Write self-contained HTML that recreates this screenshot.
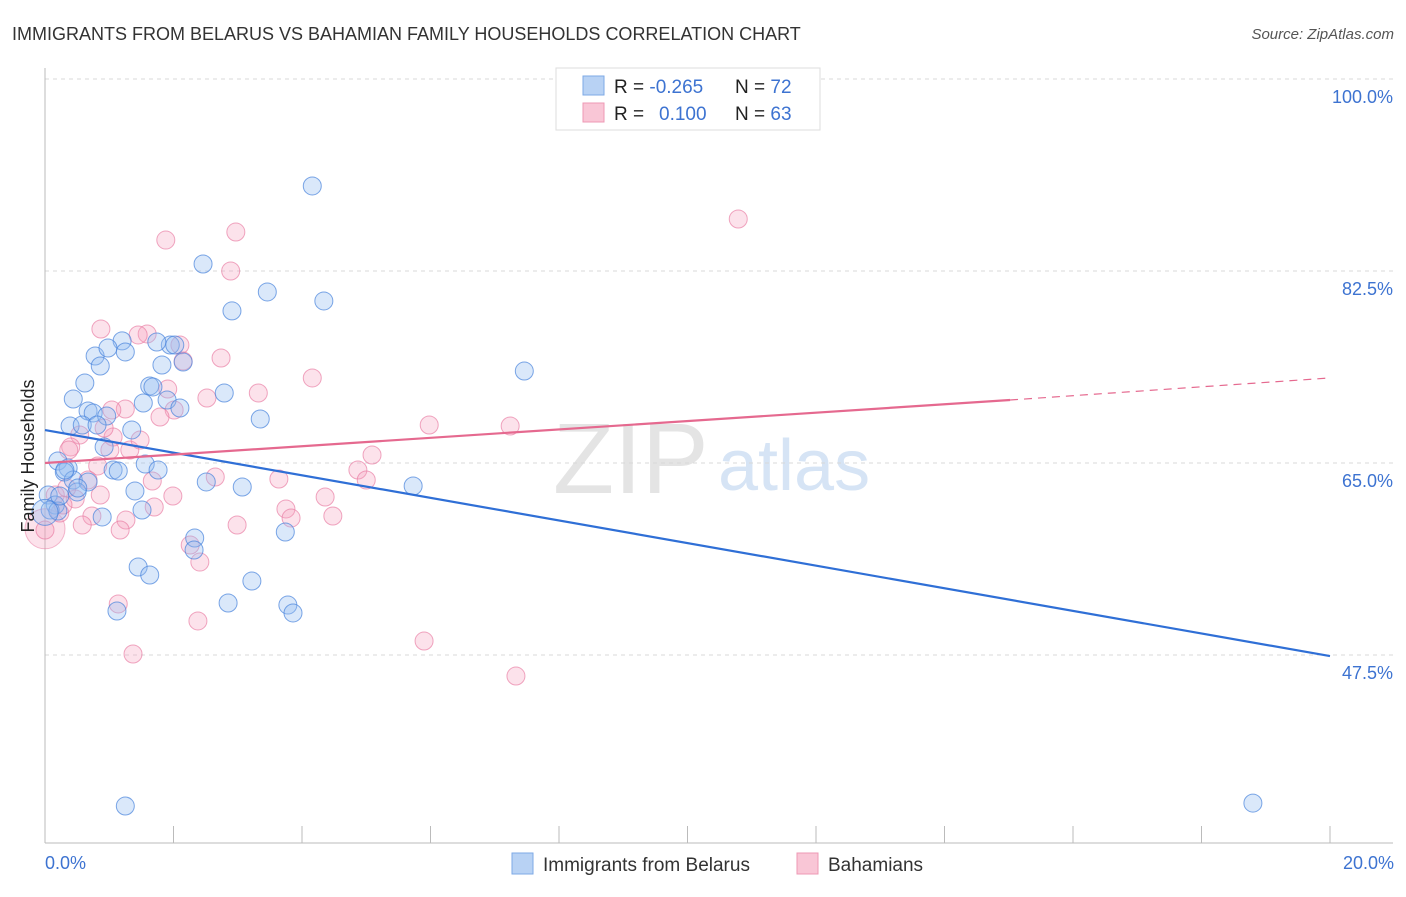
<!DOCTYPE html>
<html><head><meta charset="utf-8"><style>
body{margin:0;background:#fff;font-family:"Liberation Sans",sans-serif;}
svg text{font-family:"Liberation Sans",sans-serif;}
</style></head><body>
<svg id="chart" width="1406" height="892" viewBox="0 0 1406 892" xmlns="http://www.w3.org/2000/svg">
<text x="12" y="40" font-size="18" fill="#333">IMMIGRANTS FROM BELARUS VS BAHAMIAN FAMILY HOUSEHOLDS CORRELATION CHART</text>
<text x="1394" y="39" font-size="15" fill="#555" font-style="italic" text-anchor="end">Source: ZipAtlas.com</text>
<g>
<text x="553" y="493" font-size="100" fill="#e4e4e4" font-family="Liberation Serif">ZIP</text>
<text x="718" y="490" font-size="72" fill="#d6e4f5">atlas</text>
</g>
<g id="grid"></g>
<g id="axes"></g>
<g id="marks"></g>
<text x="34" y="456" font-size="18" fill="#222" transform="rotate(-90 34 456)" text-anchor="middle">Family Households</text>
<g>
<rect x="556" y="68" width="264" height="62" fill="#fff" stroke="#ddd"/>
<rect x="583" y="76" width="21" height="19" fill="#b8d2f4" stroke="#7ea9e6"/>
<rect x="583" y="103" width="21" height="19" fill="#f9c6d6" stroke="#ee98b4"/>
<text x="614" y="93" font-size="19" fill="#222">R = <tspan fill="#3d73d1">-0.265</tspan><tspan x="735">N = </tspan><tspan fill="#3d73d1">72</tspan></text>
<text x="614" y="120" font-size="19" fill="#222">R = <tspan x="659" fill="#3d73d1">0.100</tspan><tspan x="735">N = </tspan><tspan fill="#3d73d1">63</tspan></text>
</g>
<g>
<rect x="512" y="853" width="21" height="21" fill="#b8d2f4" stroke="#7ea9e6"/>
<text x="543" y="871" font-size="19" fill="#333">Immigrants from Belarus</text>
<rect x="797" y="853" width="21" height="21" fill="#f9c6d6" stroke="#ee98b4"/>
<text x="828" y="871" font-size="19" fill="#333">Bahamians</text>
</g>
</svg>
<script>
const yTicks=[100,82.5,65,47.5];
const yTickLabels=["100.0%","82.5%","65.0%","47.5%"];
const xTickLabels=["0.0%","20.0%"];
const blueX=[4.16,2.46,3.46,4.34,2.91,1.20,0.78,0.98,1.25,0.86,1.95,1.74,2.02,2.15,1.82,0.62,1.63,1.68,2.79,0.44,1.53,1.90,2.10,0.67,0.75,0.96,3.35,0.39,0.58,1.35,0.81,0.92,0.20,0.36,0.30,1.56,1.76,1.06,1.14,0.44,0.67,2.51,3.07,5.73,1.40,0.50,0.05,0.16,0.08,0.20,1.51,0.89,2.33,3.74,1.45,1.63,3.22,2.85,3.78,3.86,1.12,7.46,1.25,18.80,0.23,0.51,2.32,0.31,0.00];
const blueY=[90.25,83.14,80.59,79.77,78.86,76.13,74.75,75.48,75.12,73.84,75.75,76.03,75.75,74.20,73.93,72.29,72.02,71.93,71.38,70.83,70.47,70.74,70.01,69.74,69.56,69.28,69.01,68.37,68.46,68.01,68.46,66.46,65.18,64.54,64.18,64.91,64.36,64.36,64.27,63.45,63.27,63.27,62.81,62.90,62.45,62.36,62.08,61.17,60.71,60.62,60.71,60.08,58.16,58.71,55.52,54.79,54.24,52.24,52.05,51.33,51.51,73.38,33.73,34.00,61.99,62.72,57.07,64.36,60.5];
const pinkX=[10.79,1.88,2.97,2.89,0.87,1.59,1.45,2.10,2.15,2.74,4.16,1.91,3.32,2.52,1.25,2.01,1.79,5.98,7.24,0.54,1.06,0.92,0.40,0.37,1.01,1.32,5.09,4.87,5.00,2.65,3.64,1.67,0.82,0.67,0.86,0.47,1.99,4.36,3.75,3.83,4.48,1.70,1.26,0.73,0.23,1.17,0.58,2.99,2.26,2.41,1.14,2.38,5.90,1.37,7.33,0.16,0.28,0.34,1.48,1.04,0.00];
const pinkY=[87.24,85.32,86.05,82.50,77.21,76.76,76.67,75.75,74.30,74.57,72.75,71.74,71.38,70.92,69.92,69.83,69.19,68.46,68.37,67.55,67.37,68.19,66.46,66.18,66.18,66.18,65.73,64.36,63.45,63.72,63.54,63.36,64.73,63.45,62.08,61.72,61.99,61.90,60.81,59.98,60.17,60.99,59.80,60.17,60.44,58.89,59.35,59.35,57.52,55.97,52.15,50.60,48.77,47.59,45.58,62.08,61.17,62.72,67.09,69.83,58.89];
const blueTrendX=[0,20];
const blueTrendY=[68.0,47.4];
const pinkTrendX=[0,15.02,20];
const pinkTrendY=[65.0,70.74,72.75];

const X0=45,X1=1330,XMAX=20;
const xs=v=>X0+(v/XMAX)*(X1-X0);
const ys=v=>79+(100-v)*10.971;
const NS="http://www.w3.org/2000/svg";
function mk(tag,attrs,parent){const e=document.createElementNS(NS,tag);for(const k in attrs)e.setAttribute(k,attrs[k]);parent.appendChild(e);return e;}
const grid=document.getElementById('grid'),axes=document.getElementById('axes'),marks=document.getElementById('marks');
yTicks.forEach((t,i)=>{
 const l=mk('line',{x1:45,x2:1393,y1:ys(t),y2:ys(t),stroke:'#d8d8d8','stroke-dasharray':'4,4'},grid);
 
 
 const tx=mk('text',{x:1393,y:ys(t)+24,'font-size':18,fill:'#3d73d1','text-anchor':'end'},grid);
 tx.textContent=yTickLabels[i];
 
 
});
const ax=mk('line',{x1:45,x2:1393,y1:843,y2:843,stroke:'#bbb'},axes);


const ay=mk('line',{x1:45,x2:45,y1:68,y2:843,stroke:'#bbb'},axes);


for(let i=1;i<=10;i++){
 const t=mk('line',{x1:xs(i*2),x2:xs(i*2),y1:826,y2:843,stroke:'#bbb'},axes);
 
 
}
const xl0=mk('text',{x:45,y:869,'font-size':18,fill:'#3d73d1'},axes);
xl0.textContent=xTickLabels[0];


const xl1=mk('text',{x:1394,y:869,'font-size':18,fill:'#3d73d1','text-anchor':'end'},axes);
xl1.textContent=xTickLabels[1];



const bigP=mk('circle',{cx:xs(0),cy:ys(59.0),r:20,fill:'rgba(246,160,188,0.3)',stroke:'rgba(232,120,160,0.5)'},marks);


pinkX.forEach((x,i)=>{
 const c=mk('circle',{cx:xs(x),cy:ys(pinkY[i]),r:9,fill:'rgba(246,160,188,0.3)',stroke:'rgba(232,120,160,0.65)','stroke-width':1},marks);
 
 
});
blueX.forEach((x,i)=>{
 const c=mk('circle',{cx:xs(x),cy:ys(blueY[i]),r:i===blueX.length-1?13:9,fill:'rgba(150,190,240,0.35)',stroke:'rgba(70,130,220,0.7)','stroke-width':1},marks);
 
 
});
const bt=mk('line',{x1:xs(blueTrendX[0]),y1:ys(blueTrendY[0]),x2:xs(blueTrendX[1]),y2:ys(blueTrendY[1]),stroke:'#2f6fd6','stroke-width':2.2},marks);


const pt=mk('line',{x1:xs(pinkTrendX[0]),y1:ys(pinkTrendY[0]),x2:xs(pinkTrendX[1]),y2:ys(pinkTrendY[1]),stroke:'#e5698f','stroke-width':2.2},marks);


const pd=mk('line',{x1:xs(pinkTrendX[1]),y1:ys(pinkTrendY[1]),x2:xs(pinkTrendX[2]),y2:ys(pinkTrendY[2]),stroke:'#e5698f','stroke-width':1.2,'stroke-dasharray':'8,6'},marks);


</script>
</body></html>
